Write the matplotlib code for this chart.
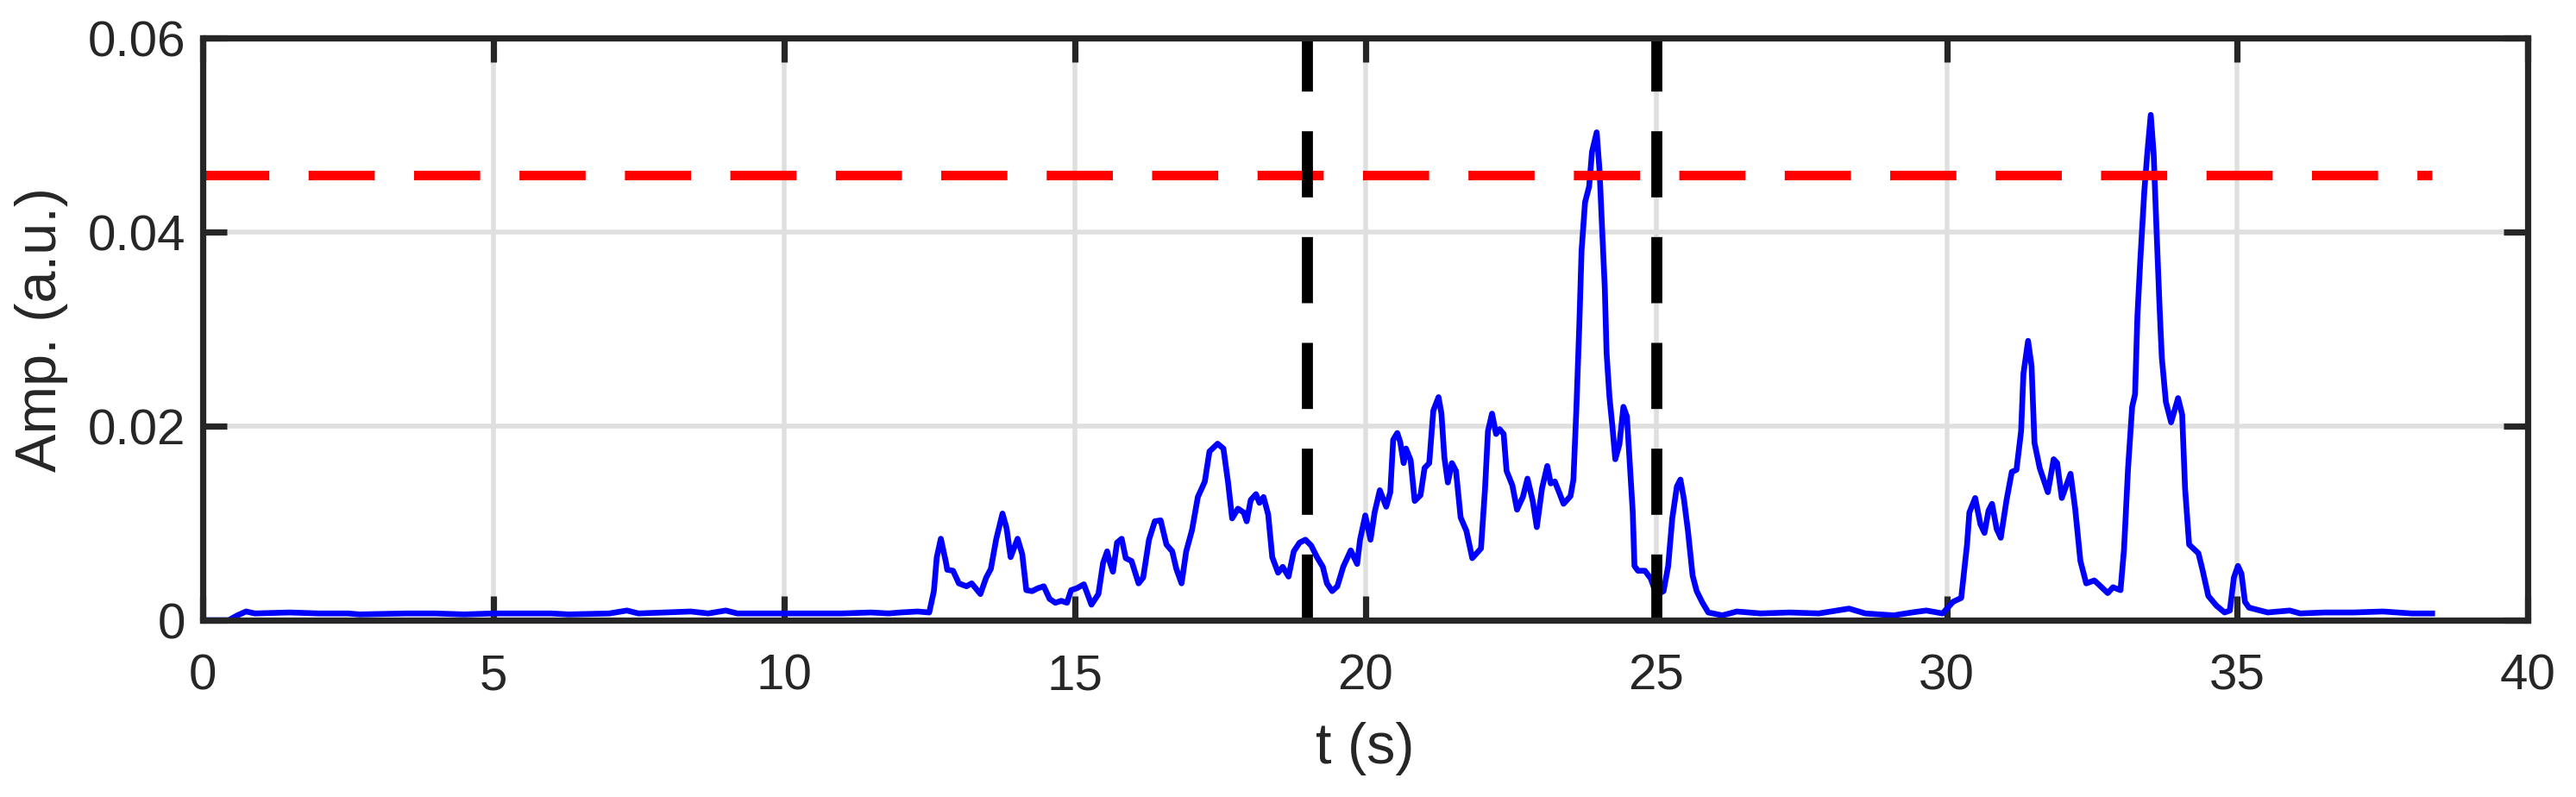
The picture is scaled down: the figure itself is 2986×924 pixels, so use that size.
import numpy as np
import matplotlib.pyplot as plt

# signal envelope
t_pts = [0.0, 0.45, 0.6, 0.75, 0.9, 1.5, 2.0, 2.5, 2.7, 3.5, 4.0, 4.5, 5.0, 6.0, 6.3, 7.0, 7.3, 7.5,
         8.4, 8.7, 9.0, 9.2, 10.0, 11.0, 11.5, 11.8, 12.0, 12.3, 12.5,
         12.58, 12.63, 12.70, 12.79, 12.81, 12.91, 13.01, 13.14, 13.23, 13.38, 13.48, 13.56, 13.65,
         13.76, 13.83, 13.90, 14.02, 14.10, 14.17, 14.27, 14.37, 14.47, 14.57, 14.67, 14.77, 14.87,
         14.94, 15.04, 15.16, 15.29, 15.41, 15.49, 15.56, 15.61, 15.66, 15.73, 15.81, 15.88, 15.98,
         16.10, 16.18, 16.28, 16.38, 16.48, 16.58, 16.68, 16.75, 16.84, 16.92, 17.02, 17.12, 17.24,
         17.32, 17.39, 17.46, 17.56, 17.64, 17.71, 17.81, 17.91, 17.96, 18.03, 18.12, 18.18, 18.25,
         18.33, 18.40, 18.50, 18.58, 18.68, 18.77, 18.87, 18.97, 19.07, 19.17, 19.27, 19.34, 19.43,
         19.52, 19.62, 19.75, 19.86, 19.91, 20.00, 20.09, 20.16, 20.25, 20.36, 20.43, 20.48, 20.55,
         20.60, 20.66, 20.70, 20.78, 20.85, 20.95, 21.02, 21.10, 21.17, 21.26, 21.31, 21.36, 21.42,
         21.49, 21.56, 21.64, 21.74, 21.84, 21.99, 22.06, 22.11, 22.18, 22.25, 22.31, 22.38, 22.43,
         22.53, 22.61, 22.71, 22.79, 22.88, 22.95, 23.04, 23.13, 23.19, 23.26, 23.34, 23.41, 23.53,
         23.58, 23.63, 23.68, 23.72, 23.78, 23.85, 23.90, 23.98, 24.03, 24.07, 24.12, 24.15, 24.20,
         24.25, 24.30, 24.37, 24.44, 24.50, 24.55, 24.60, 24.63, 24.69, 24.81, 24.91, 25.01, 25.13,
         25.21, 25.28, 25.36, 25.42, 25.48, 25.55, 25.63, 25.70, 25.80, 25.90, 26.14, 26.39, 26.8,
         27.3, 27.8, 28.32, 28.6, 29.09, 29.4, 29.65, 29.93,
         30.11, 30.25, 30.35, 30.39, 30.49, 30.58, 30.65, 30.72, 30.78, 30.86, 30.93, 31.03, 31.12,
         31.20, 31.28, 31.32, 31.40, 31.46, 31.51, 31.60, 31.74, 31.84, 31.90, 31.98, 32.13, 32.21,
         32.30, 32.40, 32.54, 32.63, 32.77, 32.86, 32.99, 33.05, 33.12, 33.19, 33.24, 33.28, 33.33,
         33.40, 33.45, 33.51, 33.56, 33.61, 33.66, 33.70, 33.77, 33.86, 33.98, 34.05, 34.10, 34.17,
         34.26, 34.33, 34.40, 34.50, 34.64, 34.78, 34.87, 34.94, 35.01, 35.07, 35.13, 35.20, 35.52,
         35.90, 36.08, 36.5, 37.0, 37.5, 38.0, 38.35]
amp_pts = [0.0, 0.0, 0.0005, 0.0009, 0.0007, 0.0008, 0.0007, 0.0007, 0.0006, 0.0007, 0.0007, 0.0006,
           0.0007, 0.0007, 0.0006, 0.0007, 0.0010, 0.0007, 0.0009, 0.0007, 0.0010, 0.0007, 0.0007,
           0.0007, 0.0008, 0.0007, 0.0008, 0.0009, 0.0008,
           0.0030, 0.0065, 0.0084, 0.0059, 0.0052, 0.0051, 0.0038, 0.0035, 0.0038, 0.0027, 0.0044,
           0.0053, 0.0083, 0.0110, 0.0095, 0.0065, 0.0084, 0.0068, 0.0031, 0.0030, 0.0033, 0.0035,
           0.0022, 0.0018, 0.0020, 0.0018, 0.0031, 0.0033, 0.0037, 0.0016, 0.0027, 0.0059, 0.0071,
           0.0059, 0.0050, 0.0080, 0.0084, 0.0064, 0.0061, 0.0038, 0.0044, 0.0083, 0.0102, 0.0103,
           0.0078, 0.0071, 0.0053, 0.0038, 0.0071, 0.0093, 0.0127, 0.0143, 0.0174, 0.0178, 0.0182,
           0.0177, 0.0142, 0.0105, 0.0115, 0.0111, 0.0102, 0.0124, 0.0130, 0.0121, 0.0127, 0.0109,
           0.0065, 0.0049, 0.0055, 0.0045, 0.0071, 0.0080, 0.0083, 0.0077, 0.0065, 0.0055, 0.0038,
           0.0030, 0.0035, 0.0055, 0.0072, 0.0058, 0.0083, 0.0108, 0.0083, 0.0111, 0.0134, 0.0117,
           0.0132, 0.0186, 0.0193, 0.0184, 0.0162, 0.0177, 0.0165, 0.0123, 0.0129, 0.0157, 0.0162,
           0.0216, 0.0230, 0.0213, 0.0168, 0.0142, 0.0162, 0.0154, 0.0106, 0.0092, 0.0064, 0.0074,
           0.0136, 0.0195, 0.0213, 0.0192, 0.0197, 0.0192, 0.0154, 0.0139, 0.0114, 0.0127, 0.0146,
           0.0123, 0.0096, 0.0136, 0.0159, 0.0141, 0.0143, 0.0131, 0.0120, 0.0128, 0.0145, 0.0217,
           0.0302, 0.0381, 0.0431, 0.0447, 0.0483, 0.0503, 0.0463, 0.0408, 0.0342, 0.0276, 0.0230,
           0.0200, 0.0166, 0.0181, 0.0220, 0.0210, 0.0161, 0.0112, 0.0056, 0.0051, 0.0051, 0.0043,
           0.0026, 0.0030, 0.0056, 0.0105, 0.0138, 0.0145, 0.0125, 0.0092, 0.0046, 0.0030, 0.0018,
           0.0008, 0.0005, 0.0009, 0.0007, 0.0008, 0.0007, 0.0012, 0.0007, 0.0005, 0.0008, 0.0010,
           0.0007,
           0.0019, 0.0023, 0.0078, 0.0111, 0.0126, 0.0099, 0.0090, 0.0113, 0.0120, 0.0094, 0.0085,
           0.0124, 0.0153, 0.0155, 0.0195, 0.0254, 0.0288, 0.0262, 0.0183, 0.0157, 0.0132, 0.0166,
           0.0162, 0.0126, 0.0151, 0.0115, 0.0061, 0.0038, 0.0041, 0.0036, 0.0028, 0.0034, 0.0031,
           0.0073, 0.0157, 0.0220, 0.0233, 0.0313, 0.0371, 0.0443, 0.0481, 0.0521, 0.0481, 0.0401,
           0.0325, 0.0271, 0.0225, 0.0204, 0.0229, 0.0212, 0.0136, 0.0078, 0.0073, 0.0069, 0.0052,
           0.0025, 0.0015, 0.0008, 0.0010, 0.0044, 0.0056, 0.0048, 0.0019, 0.0013, 0.0008, 0.0010,
           0.0007, 0.0008, 0.0008, 0.0009, 0.0007, 0.0007]

threshold = 0.0459
event_times = [19, 25]

x_ticks = [0, 5, 10, 15, 20, 25, 30, 35, 40]
y_ticks = [0, 0.02, 0.04, 0.06]
y_tick_labels = ['0', '0.02', '0.04', '0.06']

plt.rcParams['font.family'] = ['Liberation Sans', 'DejaVu Sans']
dark = '#262626'

fig = plt.figure(figsize=(14.93, 4.62), dpi=200)
ax = fig.add_axes([0.0786, 0.2218, 0.9028, 0.7302])

ax.plot(t_pts, amp_pts, color='b', lw=2.4, zorder=3)
ax.plot([t_pts[0], t_pts[-1]], [threshold, threshold], color='r', lw=4,
        dashes=(6.9, 4.1), zorder=4)
for te in event_times:
    ax.axvline(te, color='k', lw=4.6, dashes=(6.0, 3.6), zorder=5)

ax.set_xlim(0, 40)
ax.set_ylim(0, 0.06)
ax.set_xticks(x_ticks)
ax.set_xticklabels([str(v) for v in x_ticks])
ax.set_yticks(y_ticks)
ax.set_yticklabels(y_tick_labels)

ax.grid(True, color='#dfdfdf', lw=2, zorder=0)
ax.set_axisbelow(True)
ax.tick_params(direction='in', length=10, width=2.6, colors=dark, labelsize=21,
               top=True, right=True)
ax.tick_params(axis='x', pad=14)
ax.tick_params(axis='y', pad=7)
for s in ax.spines.values():
    s.set_linewidth(2.6)
    s.set_color(dark)
    s.set_zorder(6)

ax.set_xlabel('t (s)', fontsize=24, color=dark, labelpad=9)
ax.set_ylabel('Amp. (a.u.)', fontsize=24, color=dark, labelpad=8)

fig.savefig('out.png', dpi=200)
